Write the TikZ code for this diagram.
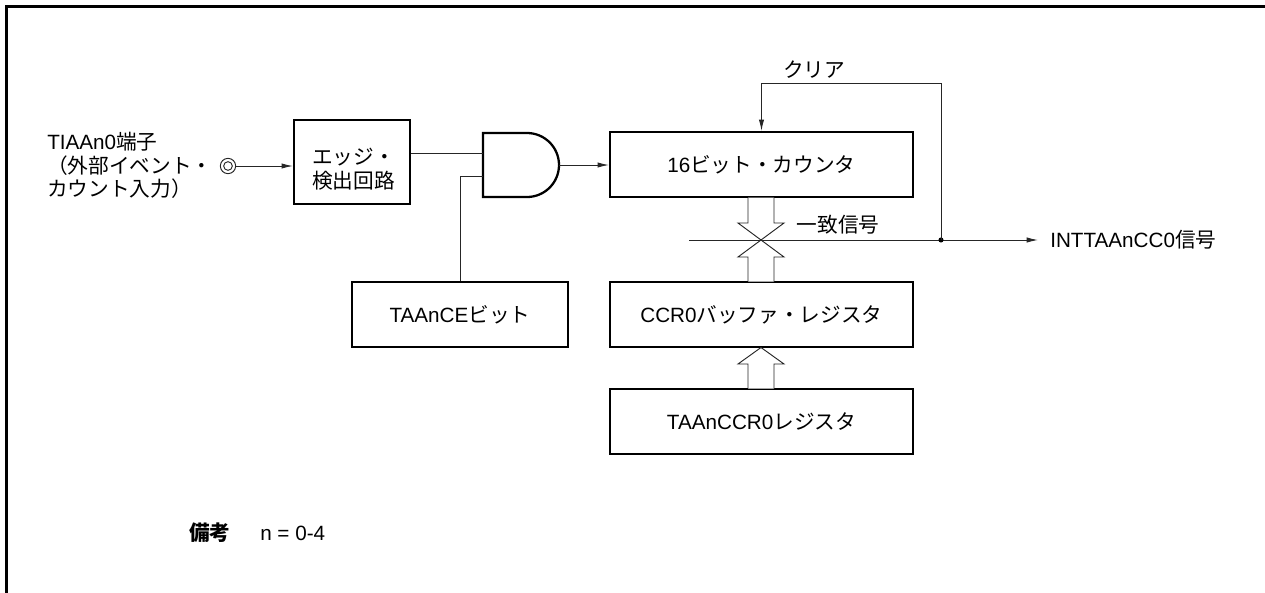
\documentclass[tikz,border=0pt]{standalone}
\usepackage{fontspec}
\setmainfont{Liberation Sans}
\newfontfamily\jp{Noto Sans CJK JP}
\usetikzlibrary{arrows.meta,calc}
\tikzset{
  txt/.style={inner sep=0pt,font=\fontsize{15.5}{18}\selectfont},
  box/.style={draw,line width=1.7pt,inner sep=0pt,font=\fontsize{15.5}{18}\selectfont},
  wire/.style={line width=0.7pt,black!85},
  arr/.style={wire,-{Latex[length=8.5pt,width=4pt]}},
  hollow/.style={line width=0.7pt,black!85,fill=white},
}
\begin{document}
\begin{tikzpicture}[x=0.75pt,y=-0.75pt]
\useasboundingbox (0,0) rectangle (1265,593);
% frame
\draw[line width=1.7pt] (6.5,593) -- (6.5,6.5) -- (1265,6.5);

% input pin
\node[txt,anchor=west] (l1) at (47,142) {TIAAn0{\jp 端子}};
\node[txt,anchor=west] (l2) at (47,166) {\jp （外部イベント・};
\node[txt,anchor=west] (l3) at (47,189) {\jp カウント入力）};
\node[circle,draw,wire,minimum size=11.5pt,inner sep=0pt] (pin) at (228,166) {};
\node[circle,draw,wire,minimum size=6.5pt,inner sep=0pt] (pinin) at (228,166) {};

% boxes
\node[box,minimum width=87pt,minimum height=63pt] (edge) at (352,162) {};
\node[txt,anchor=west,align=left] (edgetxt) at (312,169) {\jp エッジ・\\\jp 検出回路};
\node[box,minimum width=227.25pt,minimum height=48.75pt] (counter) at (761.5,164.5) {16{\jp ビット・カウンタ}};
\node[box,minimum width=162pt,minimum height=48.75pt] (ce) at (460,314.5) {TAAnCE{\jp ビット}};
\node[box,minimum width=227.25pt,minimum height=48.75pt] (buf) at (761.5,314.5) {CCR0{\jp バッファ・レジスタ}};
\node[box,minimum width=227.25pt,minimum height=48.75pt] (reg) at (761.5,421.5) {TAAnCCR0{\jp レジスタ}};

% AND gate
\draw[line width=1.7pt] (527,133) -- (483,133) -- (483,197) -- (527,197) arc[start angle=90,end angle=-90,radius=32];
\coordinate (in1) at (483,153);
\coordinate (in2) at (483,176);
\coordinate (gout) at (559,165);

% wires
\draw[arr] (pin.east) -- (edge.west |- pin);
\draw[wire] (edge.east |- in1) -- (in1);
\draw[wire] (ce.north) |- (in2);
\draw[arr] (gout) -- (counter.west |- gout);

% compare / match line
\coordinate (xl) at (689,240);
\coordinate (j) at (941,240);
\coordinate (ctop) at (941,83);
\node[txt,anchor=west] (intl) at (1050,240) {INTTAAnCC0{\jp 信号}};
\draw[wire] (xl) -- (j);
\draw[arr] (j) -- ($(intl.west)+(-12,0)$);
\fill (j) circle[radius=1.9pt];
\draw[arr] (j) -- (ctop) -| (counter.north);
\node[txt] (clr) at (814,70) {\jp クリア};
\node[txt] (match) at (838,225) {\jp 一致信号};

% hollow arrows
\draw[hollow] (748,197.5) -- (748,223) -- (738,223) -- (761,240) -- (784,223) -- (774,223) -- (774,197.5);
\draw[hollow] (748,281.5) -- (748,257) -- (738,257) -- (761,240) -- (784,257) -- (774,257) -- (774,281.5);
\draw[hollow] (748,388.5) -- (748,364) -- (738,364) -- (761,347.5) -- (784,364) -- (774,364) -- (774,388.5);

% note
\node[txt,anchor=west] (note) at (189,533) {\jp\bfseries 備考};
\node[txt,anchor=west] (notev) at (260,533) {n = 0-4};
\end{tikzpicture}
\end{document}
